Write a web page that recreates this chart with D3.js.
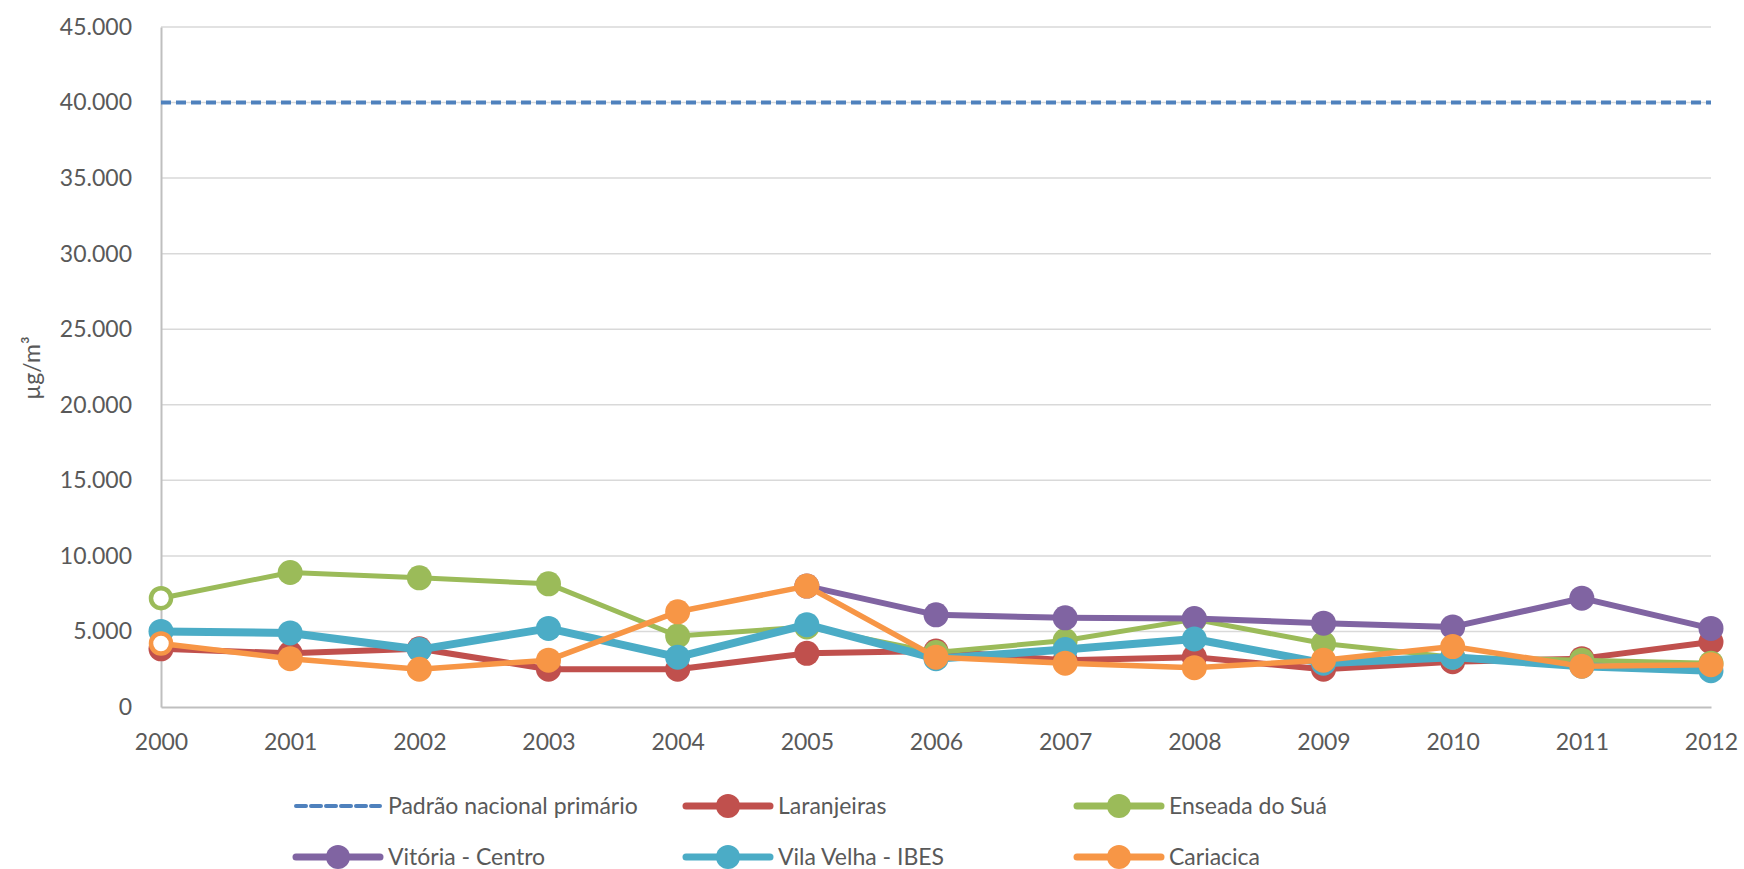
<!DOCTYPE html>
<html>
<head>
<meta charset="utf-8">
<script src="https://cdn.jsdelivr.net/npm/d3@7"></script>
<style>
  html, body { margin: 0; padding: 0; background: #fff; }
  svg { display: block; }
  text { font-family: Lato, "Open Sans", sans-serif; fill: #595959; }
</style>
</head>
<body>
<svg id="chart" width="1744" height="869"></svg>
<script>
// ---- Data ----
const years = [2000, 2001, 2002, 2003, 2004, 2005, 2006, 2007, 2008, 2009, 2010, 2011, 2012];
const yTicks = [0, 5000, 10000, 15000, 20000, 25000, 30000, 35000, 40000, 45000];
const padrao = [40000, 40000, 40000, 40000, 40000, 40000, 40000, 40000, 40000, 40000, 40000, 40000, 40000];
const laranjeiras = [3850, 3550, 3850, 2500, 2500, 3550, 3700, 3100, 3300, 2500, 3000, 3200, 4300];
const enseada = [7200, 8900, 8550, 8150, 4700, 5300, 3600, 4400, 5800, 4200, 3300, 3100, 2900];
const vitoria = [null, null, null, null, null, 8000, 6100, 5900, 5850, 5550, 5300, 7200, 5200];
const vilaVelha = [5000, 4900, 3800, 5200, 3300, 5450, 3200, 3800, 4500, 2900, 3300, 2700, 2400];
const cariacica = [4200, 3200, 2500, 3100, 6300, 8000, 3300, 2900, 2600, 3100, 4000, 2700, 2800];
const seriesNames = ["Padrão nacional primário", "Laranjeiras", "Enseada do Suá", "Vitória - Centro", "Vila Velha - IBES", "Cariacica"];
const yTitle = "µg/m³";

// ---- Styling ----
const series = [
  { name: seriesNames[0], values: padrao, color: "#4F81BD", width: 4, dash: "10,5", marker: false },
  { name: seriesNames[1], values: laranjeiras, color: "#C0504D", width: 6, marker: true, hollowFirst: false },
  { name: seriesNames[2], values: enseada, color: "#9BBB59", width: 5, marker: true, hollowFirst: true },
  { name: seriesNames[3], values: vitoria, color: "#8064A2", width: 6, marker: true, hollowFirst: false },
  { name: seriesNames[4], values: vilaVelha, color: "#4BACC6", width: 8, marker: true, hollowFirst: false },
  { name: seriesNames[5], values: cariacica, color: "#F79646", width: 5.5, marker: true, hollowFirst: true }
];

const locale = d3.formatLocale({ decimal: ",", thousands: ".", grouping: [3], currency: ["R$", ""] });
const fmt = locale.format(",.0f");

const svg = d3.select("#chart");
const pLeft = 161, pRight = 1711, pTop = 27, pBottom = 707;
const x = d3.scaleLinear().domain([years[0], years[years.length - 1]]).range([pLeft, pRight]);
const y = d3.scaleLinear().domain([0, 45000]).range([pBottom, pTop]);

// gridlines
svg.append("g").selectAll("line").data(yTicks.filter(d => d > 0)).join("line")
  .attr("x1", pLeft).attr("x2", pRight)
  .attr("y1", d => y(d)).attr("y2", d => y(d))
  .attr("stroke", "#d9d9d9").attr("stroke-width", 1.5);

// y axis
const yAxis = svg.append("g").attr("transform", `translate(${pLeft},0)`)
  .call(d3.axisLeft(y).tickValues(yTicks).tickFormat(fmt).tickSize(0).tickPadding(29));
yAxis.select(".domain").attr("stroke", "#bfbfbf").attr("stroke-width", 2);
yAxis.selectAll("text").style("font-size", "23px").attr("fill", "#595959")
  .style("font-family", "Lato, 'Open Sans', sans-serif");

// x axis
const xAxis = svg.append("g").attr("transform", `translate(0,${pBottom})`)
  .call(d3.axisBottom(x).tickValues(years).tickFormat(d3.format("d")).tickSize(0).tickPadding(27));
xAxis.select(".domain").attr("stroke", "#bfbfbf").attr("stroke-width", 2);
xAxis.selectAll("text").style("font-size", "23px").attr("fill", "#595959")
  .style("font-family", "Lato, 'Open Sans', sans-serif");

// y title
svg.append("text")
  .attr("transform", `translate(40,368) rotate(-90)`)
  .attr("text-anchor", "middle")
  .style("font-size", "23px")
  .text(yTitle);

// lines and markers
const line = d3.line()
  .defined(d => d.v !== null)
  .x(d => x(d.year)).y(d => y(d.v));

series.forEach(s => {
  const pts = years.map((yr, i) => ({ year: yr, v: s.values[i], i }));
  const g = svg.append("g");
  g.append("path").datum(pts)
    .attr("d", line)
    .attr("fill", "none")
    .attr("stroke", s.color)
    .attr("stroke-width", s.width)
    .attr("stroke-linejoin", "round")
    .attr("stroke-dasharray", s.dash || null);
  if (s.marker) {
    g.selectAll("circle").data(pts.filter(d => d.v !== null)).join("circle")
      .attr("cx", d => x(d.year)).attr("cy", d => y(d.v))
      .attr("r", d => (s.hollowFirst && d.i === 0) ? 10 : 12.5)
      .attr("fill", d => (s.hollowFirst && d.i === 0) ? "#fff" : s.color)
      .attr("stroke", d => (s.hollowFirst && d.i === 0) ? s.color : "none")
      .attr("stroke-width", 4.5);
  }
});

// legend
const legCols = [296, 686, 1077];
const legRows = [806, 857];
series.forEach((s, i) => {
  const lx = legCols[i % 3], ly = legRows[Math.floor(i / 3)];
  const g = svg.append("g").attr("transform", `translate(${lx},${ly})`);
  g.append("line").attr("x1", 0).attr("x2", 84).attr("y1", 0).attr("y2", 0)
    .attr("stroke", s.color).attr("stroke-width", s.marker ? 7 : 4)
    .attr("stroke-linecap", "round")
    .attr("stroke-dasharray", s.dash || null);
  if (s.marker) {
    g.append("circle").attr("cx", 42).attr("cy", 0).attr("r", 12).attr("fill", s.color);
  }
  g.append("text").attr("x", 92).attr("y", 0).attr("dy", "0.35em")
    .style("font-size", "23px").text(s.name);
});
</script>
</body>
</html>
